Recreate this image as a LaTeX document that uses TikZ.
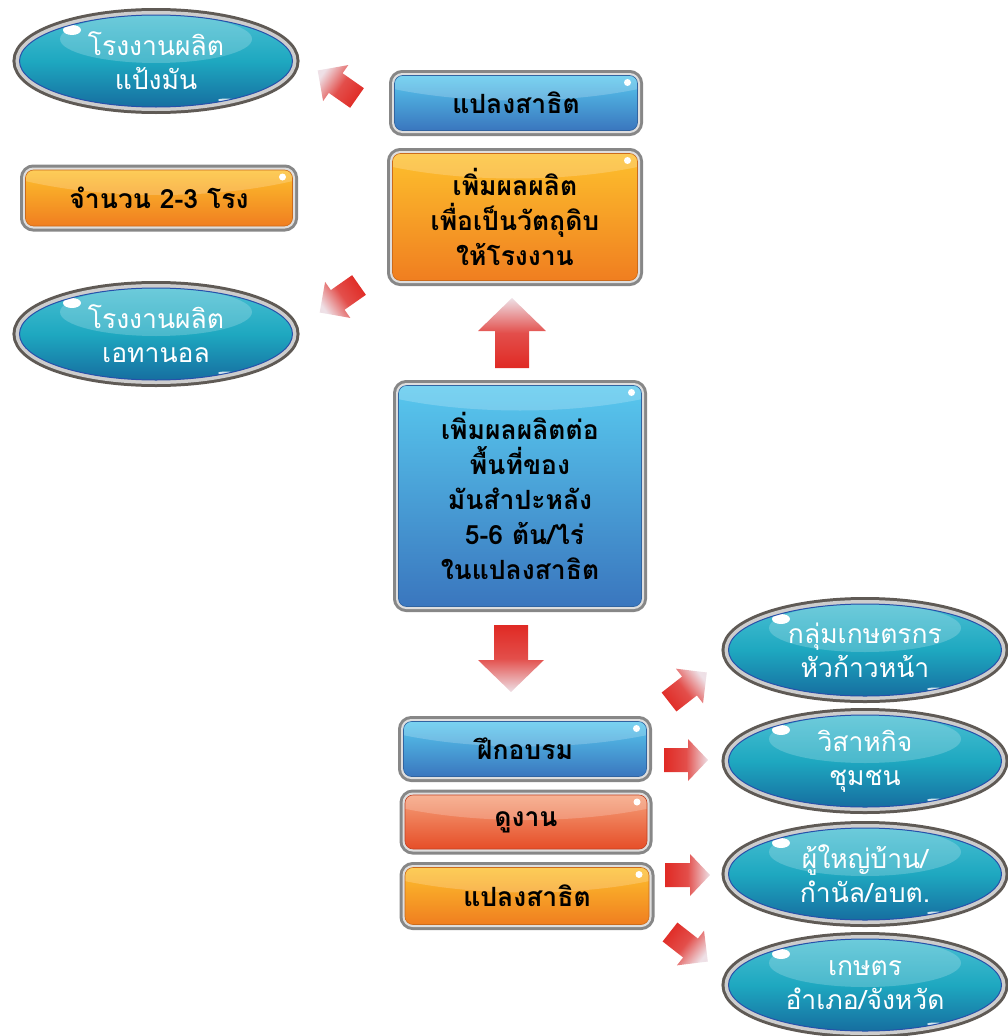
\documentclass[tikz,border=0pt]{standalone}
\usepackage{fontspec}
\newfontfamily\thaifont[Script=Thai]{Loma}
\usetikzlibrary{shapes.geometric}
\definecolor{rimgray}{RGB}{135,135,135}
\definecolor{rimlight}{RGB}{222,222,222}
\definecolor{blueA}{RGB}{88,200,238}
\definecolor{blueB}{RGB}{58,118,190}
\definecolor{orangeA}{RGB}{253,192,45}
\definecolor{orangeB}{RGB}{240,126,32}
\definecolor{redA}{RGB}{245,160,122}
\definecolor{redB}{RGB}{230,78,40}
\definecolor{tealA}{RGB}{72,190,210}
\definecolor{tealM}{RGB}{30,168,192}
\definecolor{tealB}{RGB}{22,110,160}
\definecolor{ovalrim}{RGB}{95,90,85}
\definecolor{ovalsilver}{RGB}{205,205,205}
\definecolor{ovalline}{RGB}{40,80,170}
\definecolor{arrowred}{RGB}{224,42,36}
\definecolor{arrowpale}{RGB}{238,224,230}

% block arrow: tail, angle, length, shaft, head, head length
\newcommand{\redarrow}[6]{%
  \begin{scope}[shift={(#1)}, rotate=#2]
    \pgfmathsetmacro{\shadeang}{#2-90}
    \shade[top color=arrowpale, bottom color=arrowred, middle color=arrowred!80!arrowpale, shading angle=\shadeang]
      (0,-#4/2) -- ({#3-#6},-#4/2) -- ({#3-#6},-#5/2) -- (#3,0)
      -- ({#3-#6},#5/2) -- ({#3-#6},#4/2) -- (0,#4/2) -- cycle;
  \end{scope}}

\begin{document}
\begin{tikzpicture}[x=1pt, y=1pt,
  glassbox/.style 2 args={rectangle, rounded corners=8pt, inner sep=2pt,
    preaction={draw=rimgray, line width=11pt},
    preaction={draw=rimlight, line width=5pt},
    top color=#1, bottom color=#2, draw=#2!85!black, line width=.6pt,
    path picture={
      \fill[white, opacity=.2] ([yshift=50pt]path picture bounding box.north) ellipse [x radius=230pt, y radius=75pt];
      \fill[white] ([xshift=-10pt, yshift=-7pt]path picture bounding box.north east) circle [radius=3.5pt];},
    font=\thaifont\bfseries\fontsize{26.5}{35}\selectfont, align=center},
  bluebox/.style={glassbox={blueA}{blueB}},
  orangebox/.style={glassbox={orangeA}{orangeB}},
  redbox/.style={glassbox={redA}{redB}},
  oval/.style={ellipse, minimum width=273pt, minimum height=92pt, inner sep=0pt,
    preaction={draw=ovalrim, line width=14pt},
    preaction={draw=ovalsilver, line width=8pt},
    top color=tealA, bottom color=tealB, middle color=tealM, draw=ovalline, line width=1pt,
    path picture={
      \fill[white, opacity=.2] ([yshift=-24pt]path picture bounding box.north) ellipse [x radius=96pt, y radius=24pt];
      \fill[white] ([xshift=-84pt, yshift=31pt]path picture bounding box.center) ellipse [x radius=9pt, y radius=5pt];
      \fill[white, opacity=.8] ([xshift=70pt, yshift=-39pt]path picture bounding box.center) ellipse [x radius=8pt, y radius=1.5pt];},
    text=white, font=\thaifont\fontsize{26.5}{34}\selectfont, align=center}]
  \useasboundingbox (0,0) rectangle (1008,-1036);

  % factories on the left
  \node[oval] (starchOval) at (156,-61) {โรงงานผลิต\\แป้งมัน};
  \node[orangebox, minimum width=267pt, minimum height=56pt] (countBox) at (159,-198) {จำนวน 2-3 โรง};
  \node[oval] (ethanolOval) at (156,-334) {โรงงานผลิต\\เอทานอล};

  % centre column
  \node[bluebox, minimum width=243pt, minimum height=55pt] (plotTop) at (516,-103) {แปลงสาธิต};
  \node[orangebox, minimum width=245pt, minimum height=127pt] (yieldBox) at (515,-217) {เพิ่มผลผลิต\\เพื่อเป็นวัตถุดิบ\\ให้โรงงาน};
  \node[bluebox, minimum width=243pt, minimum height=221pt] (mainBox) at (520,-496) {เพิ่มผลผลิตต่อ\\พื้นที่ของ\\มันสำปะหลัง\\\ 5-6 ต้น/ไร่\\ในแปลงสาธิต};

  % transfer activities
  \node[bluebox, minimum width=243pt, minimum height=55pt] (trainBox) at (525,-749) {ฝึกอบรม};
  \node[redbox, minimum width=242pt, minimum height=54pt] (visitBox) at (526,-822) {ดูงาน};
  \node[orangebox, minimum width=244pt, minimum height=57pt] (plotBottom) at (527,-896) {แปลงสาธิต};

  % target groups
  \node[oval] (groupOval) at (865,-650) {กลุ่มเกษตรกร\\หัวก้าวหน้า};
  \node[oval] (enterpriseOval) at (865,-761) {วิสาหกิจ\\ชุมชน};
  \node[oval] (leaderOval) at (865,-874) {ผู้ใหญ่บ้าน/\\กำนัล/อบต.};
  \node[oval] (officeOval) at (865,-985) {เกษตร\\อำเภอ/จังหวัด};

  % arrows
  \coordinate (upTail) at (512,-368);
  \coordinate (downTail) at (511,-625);
  \coordinate (starchTail) at (357,-98);
  \coordinate (ethanolTail) at (359,-285);
  \coordinate (groupTail) at (669,-702);
  \coordinate (enterpriseTail) at (664,-760);
  \coordinate (leaderTail) at (665,-875);
  \coordinate (officeTail) at (670,-932);
  \redarrow{upTail}{90}{70}{34}{68}{33}
  \redarrow{downTail}{-90}{67}{34}{66}{32}
  \redarrow{starchTail}{145}{48}{24}{44}{22}
  \redarrow{ethanolTail}{215}{48}{24}{44}{22}
  \redarrow{groupTail}{38}{48}{24}{44}{22}
  \redarrow{enterpriseTail}{0}{44}{24}{42}{20}
  \redarrow{leaderTail}{0}{45}{24}{42}{20}
  \redarrow{officeTail}{-38}{48}{24}{44}{22}
\end{tikzpicture}
\end{document}
